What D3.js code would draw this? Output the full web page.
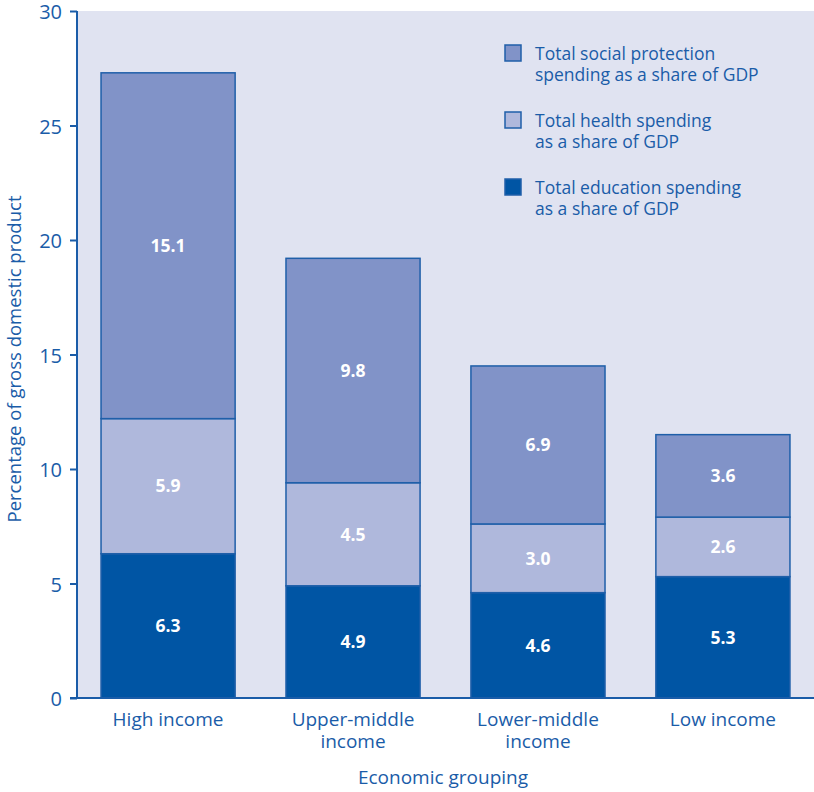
<!DOCTYPE html>
<html lang="en">
<head>
    <meta charset="UTF-8">
    <title>Spending as a share of GDP</title>
    <script src="https://d3js.org/d3.v7.min.js"></script>
    <style>
        body { margin: 0; background: #fff; }
        text { font-family: "Open Sans", "Noto Sans", sans-serif; }
        .axis text { fill: #1a5ca8; font-size: 20px; }
        .axis line, .axis path { stroke: #1a5ca8; stroke-width: 2px; }
        .bar-label { fill: #fff; font-size: 17.5px; font-weight: bold; }
        .title { fill: #1a5ca8; font-size: 19px; }
        .ylabel { fill: #1a5ca8; font-size: 18.5px; }
        .legend-text { fill: #1a5ca8; font-size: 17.5px; }
    </style>
</head>
<body>
    <script>
        const width = 814;
        const height = 792;

        const groups = ["High income", "Upper-middle income", "Lower-middle income", "Low income"];
        const groupLines = [["High income"], ["Upper-middle", "income"], ["Lower-middle", "income"], ["Low income"]];
        const education = [6.3, 4.9, 4.6, 5.3];
        const health = [5.9, 4.5, 3.0, 2.6];
        const social = [15.1, 9.8, 6.9, 3.6];
        const yTicks = [0, 5, 10, 15, 20, 25, 30];

        const seriesKeys = ["education", "health", "social"];
        const seriesColors = { education: "#0055a4", health: "#afb8dc", social: "#8193c8" };
        const legendItems = [
            { key: "social", lines: ["Total social protection", "spending as a share of GDP"] },
            { key: "health", lines: ["Total health spending", "as a share of GDP"] },
            { key: "education", lines: ["Total education spending", "as a share of GDP"] }
        ];

        const rows = groups.map((g, i) => ({
            group: g, education: education[i], health: health[i], social: social[i]
        }));

        const margin = { top: 11, right: 0, bottom: 94, left: 77 };
        const plotW = width - margin.left - margin.right;
        const plotH = height - margin.top - margin.bottom;

        const svg = d3.select("body")
            .append("svg")
            .attr("width", width)
            .attr("height", height);

        const g = svg.append("g")
            .attr("transform", `translate(${margin.left},${margin.top})`);

        g.append("rect")
            .attr("width", plotW)
            .attr("height", plotH)
            .attr("fill", "#e0e3f1");

        const x = d3.scaleBand()
            .domain(groups)
            .range([0, plotW])
            .paddingInner(0.275)
            .paddingOuter(0.13);

        const y = d3.scaleLinear()
            .domain([0, 30])
            .range([plotH, 0]);

        const stacked = d3.stack().keys(seriesKeys)(rows);

        const layers = g.selectAll(".layer")
            .data(stacked)
            .enter()
            .append("g")
            .attr("class", "layer")
            .attr("fill", d => seriesColors[d.key]);

        layers.selectAll("rect")
            .data(d => d)
            .enter()
            .append("rect")
            .attr("x", d => x(d.data.group))
            .attr("y", d => y(d[1]))
            .attr("width", x.bandwidth())
            .attr("height", d => y(d[0]) - y(d[1]))
            .attr("stroke", "#1f5fa9")
            .attr("stroke-width", 1.5);

        layers.selectAll("text")
            .data(d => d)
            .enter()
            .append("text")
            .attr("class", "bar-label")
            .attr("x", d => x(d.data.group) + x.bandwidth() / 2)
            .attr("y", d => (y(d[0]) + y(d[1])) / 2)
            .attr("dy", "0.36em")
            .attr("text-anchor", "middle")
            .text(d => d3.format(".1f")(d[1] - d[0]));

        // axes
        const yAxis = g.append("g")
            .attr("class", "axis")
            .call(d3.axisLeft(y).tickValues(yTicks).tickSize(7).tickPadding(8));
        yAxis.select(".domain").attr("d", `M0,${plotH}V0`);
        yAxis.selectAll(".tick text").attr("dy", "0.38em");

        const xAxis = g.append("g")
            .attr("class", "axis")
            .attr("transform", `translate(0,${plotH})`)
            .call(d3.axisBottom(x).tickSize(0).tickFormat(""));
        xAxis.select(".domain").attr("d", `M-7,0H${plotW}`);

        g.selectAll(".group-label")
            .data(groups)
            .enter()
            .append("text")
            .attr("class", "title")
            .attr("text-anchor", "middle")
            .attr("x", d => x(d) + x.bandwidth() / 2)
            .attr("y", plotH + 28)
            .each(function(d, i) {
                d3.select(this).selectAll("tspan")
                    .data(groupLines[i])
                    .enter()
                    .append("tspan")
                    .attr("x", x(d) + x.bandwidth() / 2)
                    .attr("dy", (t, j) => j === 0 ? 0 : 22)
                    .text(t => t);
            });

        svg.append("text")
            .attr("class", "title")
            .attr("text-anchor", "middle")
            .attr("x", 443)
            .attr("y", 784)
            .text("Economic grouping");

        svg.append("text")
            .attr("class", "ylabel")
            .attr("text-anchor", "middle")
            .attr("transform", "translate(21,359) rotate(-90)")
            .text("Percentage of gross domestic product");

        // legend
        const legend = svg.append("g")
            .attr("transform", "translate(505,45)");

        legend.selectAll("g")
            .data(legendItems)
            .enter()
            .append("g")
            .attr("transform", (d, i) => `translate(0, ${i * 67})`)
            .each(function(d) {
                const item = d3.select(this);
                item.append("rect")
                    .attr("width", 16)
                    .attr("height", 16)
                    .attr("fill", seriesColors[d.key])
                    .attr("stroke", "#1f5fa9")
                    .attr("stroke-width", 1.5);
                item.append("text")
                    .attr("class", "legend-text")
                    .attr("x", 30)
                    .attr("y", 15)
                    .selectAll("tspan")
                    .data(d.lines)
                    .enter()
                    .append("tspan")
                    .attr("x", 30)
                    .attr("dy", (t, j) => j === 0 ? 0 : 21)
                    .text(t => t);
            });
    </script>
</body>
</html>
